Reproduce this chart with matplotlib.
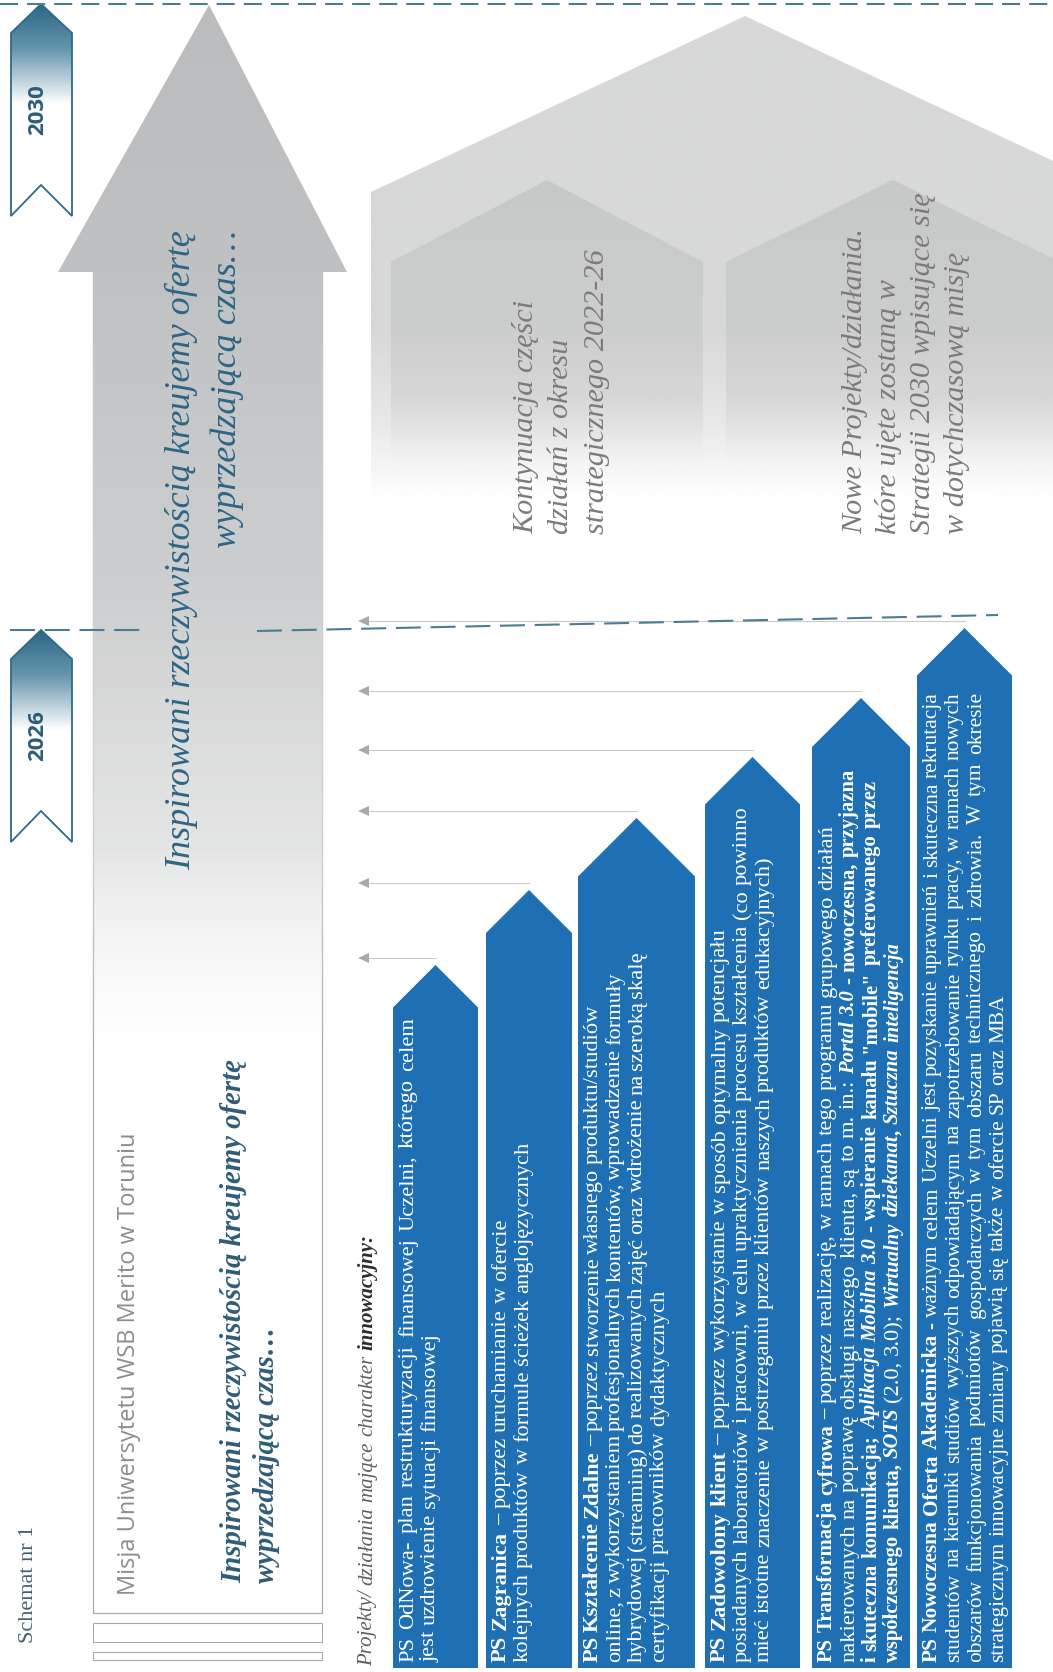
import numpy as np
import matplotlib
matplotlib.use("Agg")
import matplotlib.pyplot as plt
from matplotlib.patches import Polygon, Rectangle
from matplotlib.font_manager import FontProperties
from matplotlib.colors import to_rgb

plt.rcParams['lines.scale_dashes'] = False

W, H = 1053, 1672

# --- tresc schematu ---
title = 'Schemat nr 1'
years = ['2030', '2026']
year_top = [4, 630]
mission_title = 'Misja Uniwersytetu WSB Merito w Toruniu'
motto = ['Inspirowani rzeczywistością kreujemy ofertę', 'wyprzedzającą czas…']
continuation = ['Kontynuacja części', 'działań z okresu', 'strategicznego 2022-26']
new_projects = ['Nowe Projekty/działania.', 'które ujęte zostaną w',
                'Strategii 2030 wpisujące się', 'w dotychczasową misję']
projects_intro = [('Projekty/ działania mające charakter ', 'i'), ('innowacyjny:', 'bi')]

ps_lines = [
    [  # PS OdNowa
        [('PS OdNowa- plan restrukturyzacji finansowej Uczelni, którego celem', 'r')],
        [('jest uzdrowienie sytuacji finansowej', 'r')],
    ],
    [  # PS Zagranica
        [('PS Zagranica –', 'b'), (' poprzez uruchamianie w ofercie', 'r')],
        [('kolejnych produktów w formule ścieżek anglojęzycznych', 'r')],
    ],
    [  # PS Ksztalcenie Zdalne
        [('PS Kształcenie Zdalne –', 'b'), (' poprzez stworzenie własnego produktu/studiów', 'r')],
        [('online, z wykorzystaniem profesjonalnych kontentów, wprowadzenie formuły', 'r')],
        [('hybrydowej (streaming) do realizowanych zajęć oraz wdrożenie na szeroką skalę', 'r')],
        [('certyfikacji pracowników dydaktycznych', 'r')],
    ],
    [  # PS Zadowolony klient
        [('PS Zadowolony klient –', 'b'), (' poprzez wykorzystanie w sposób optymalny potencjału', 'r')],
        [('posiadanych laboratoriów i pracowni, w celu upraktycznienia procesu kształcenia (co powinno', 'r')],
        [('mieć istotne znaczenie w postrzeganiu przez klientów naszych produktów edukacyjnych)', 'r')],
    ],
    [  # PS Transformacja cyfrowa
        [('PS Transformacja cyfrowa –', 'b'), (' poprzez realizację, w ramach tego programu grupowego działań', 'r')],
        [('nakierowanych na poprawę obsługi naszego klienta, są to m. in.: ', 'r'),
         ('Portal 3.0', 'bi'), (' - nowoczesna, przyjazna', 'b')],
        [('i skuteczna komunikacja; ', 'b'), ('Aplikacja Mobilna 3.0', 'bi'),
         (' - wspieranie kanału "mobile" preferowanego przez', 'b')],
        [('współczesnego klienta, ', 'b'), ('SOTS', 'bi'), (' (2.0, 3.0); ', 'r'),
         ('Wirtualny dziekanat', 'bi'), (', ', 'b'), ('Sztuczna inteligencja', 'bi')],
    ],
    [  # PS Nowoczesna Oferta Akademicka
        [('PS Nowoczesna Oferta Akademicka', 'b'),
         (' - ważnym celem Uczelni jest pozyskanie uprawnień i skuteczna rekrutacja', 'r')],
        [('studentów na kierunki studiów wyższych odpowiadającym na zapotrzebowanie rynku pracy, w ramach nowych', 'r')],
        [('obszarów funkcjonowania podmiotów gospodarczych w tym obszaru technicznego i zdrowia. W tym okresie', 'r')],
        [('strategicznym innowacyjne zmiany pojawią się także w ofercie SP oraz MBA', 'r')],
    ],
]
ps_left = [393, 486, 578, 705, 812, 917]
ps_right = [478, 572, 695, 800, 910, 1012]
ps_tip = [965, 890, 818, 757, 698, 628]
ps_text_len = [645, None, 657, None, None, 970]   # dlugosc justowanych wierszy
ps_font = [16.2, 16.2, 16.2, 16.2, 16.2, 15.4]
ps_bold_scale = [1, 1, 1, 1, 0.92, 1]             # pogrubienia w PS Transformacja sa wezsze

SERIF = 'Liberation Serif'
BLUE = '#1e6fb4'
TEAL = '#4d7b90'

fig = plt.figure(figsize=(W / 100, H / 100), dpi=100)
ax = fig.add_axes([0, 0, 1, 1])
ax.set_xlim(0, W)
ax.set_ylim(H, 0)
ax.set_autoscale_on(False)
ax.axis('off')
renderer = fig.canvas.get_renderer()


def fp(style='r', size=14.5, family=SERIF):
    return FontProperties(family=family, size=size,
                          style='italic' if 'i' in style else 'normal',
                          weight='bold' if 'b' in style else 'normal')


def text_w(s, prop):
    w, _, _ = renderer.get_text_width_height_descent(s, prop, ismath=False)
    return w


def vtext(x, y, s, prop, color, ha='left', z=6):
    return ax.text(x, y, s, fontproperties=prop, color=color, rotation=90,
                   rotation_mode='anchor', ha=ha, va='baseline', zorder=z)


def tokenize(runs):
    words, glue = [], False
    for txt, st in runs:
        for i, p in enumerate(txt.split(' ')):
            if i > 0:
                glue = False
            if p:
                if glue and words:
                    words[-1].append((p, st))
                else:
                    words.append([(p, st)])
                glue = True
    return words


def rich_line(x, y0, runs, size, color, length=None, bold_scale=1.0):
    def prop(st):
        return fp(st, size * (bold_scale if 'b' in st else 1.0))
    words = tokenize(runs)
    widths = [sum(text_w(p, prop(st)) for p, st in wd) for wd in words]
    reg = fp('r', size)
    space = text_w('a a', reg) - text_w('aa', reg)
    gap = space
    if length and len(words) > 1:
        gap = max((length - sum(widths)) / (len(words) - 1), 0.6 * space)
    y = y0
    for wd, w in zip(words, widths):
        yy = y
        for p, st in wd:
            c = color[st] if isinstance(color, dict) else color
            vtext(x, yy, p, prop(st), c)
            yy -= text_w(p, prop(st))
        y -= w + gap


def fade_fill(pts, ys, colors, alphas, z):
    poly = Polygon(pts, closed=True, fc='none', ec='none')
    ax.add_patch(poly)
    px = [p[0] for p in pts]
    py = [p[1] for p in pts]
    y0, y1 = min(py), max(py)
    grid = np.linspace(y0, y1, 600)
    cols = np.array([to_rgb(c) for c in colors])
    img = np.ones((600, 2, 4))
    for k in range(3):
        img[:, :, k] = np.interp(grid, ys, cols[:, k])[:, None]
    img[:, :, 3] = np.interp(grid, ys, alphas)[:, None]
    im = ax.imshow(img, extent=(min(px), max(px), y1, y0), origin='upper',
                   aspect='auto', interpolation='bilinear', zorder=z)
    im.set_clip_path(poly)


# --- domki po prawej ---
big_house = [(745, 16), (1119, 192), (1119, 520), (371, 520), (371, 192)]
fade_fill(big_house, [16, 330, 420, 500], ['#d7d8d8'] * 4, [1, 1, 0.6, 0], 1)
for cx, hw in [(547, 156), (893, 167)]:
    house = [(cx, 180), (cx + hw, 262), (cx + hw, 475), (cx - hw, 475), (cx - hw, 262)]
    fade_fill(house, [180, 325, 395, 460], ['#c7c8c8', '#cccdcd', '#d4d4d4', '#e1e1e1'],
              [1, 1, 0.8, 0], 1.5)

for j, s in enumerate(continuation):
    vtext(533 + 35.5 * j, 534, s, fp('i', 21.8), '#7b7b7b')
for j, s in enumerate(new_projects):
    vtext(862 + 34 * j, 534, s, fp('i', 21.8), '#7b7b7b')

# --- duza szara strzalka (misja) ---
mission_arrow = [(209, 5), (347, 272), (323, 272), (323, 1060), (93, 1060), (93, 272), (58, 272)]
fade_fill(mission_arrow, [5, 272, 600, 850, 1050],
          ['#bbbcbd', '#c0c1c2', '#cecfd0', '#dcdddd', '#f2f2f2'], [1, 1, 1, 0.75, 0], 2)
ax.add_patch(Rectangle((93, 272), 229, 1613 - 272, fill=False, ec='#a8a8a8', lw=0.9, zorder=1))
ax.add_patch(Rectangle((93, 1623), 229, 19, fill=False, ec='#a8a8a8', lw=0.8, zorder=1))
ax.add_patch(Rectangle((93, 1652), 229, 8, fill=False, ec='#a8a8a8', lw=0.8, zorder=1))

vtext(190, 230, motto[0], fp('i', 26), '#2e6584', ha='right')
vtext(236, 230, motto[1], fp('i', 26), '#2e6584', ha='right')
vtext(135, 1595, mission_title, FontProperties(family='Open Sans', size=17), '#8d8d8d')
vtext(241, 1583, motto[0], fp('bi', 20.7), '#2f5d75')
vtext(274, 1583, motto[1], fp('bi', 20.7), '#2f5d75')
vtext(33, 1643, title, fp('r', 16), '#46606f')

# --- znaczniki lat ---
for label, top in zip(years, year_top):
    pts = [(11, top + 29), (41, top), (72, top + 29), (72, top + 212), (41, top + 181), (11, top + 212)]
    fade_fill(pts, [top, top + 45, top + 100, top + 212],
              ['#2a6786', '#6695ad', '#ffffff', '#ffffff'], [1, 1, 1, 1], 3)
    ax.add_patch(Polygon(pts, closed=True, fill=False, ec='#2f6a88', lw=1.3, zorder=4))
    ax.text(38, top + 106, label, rotation=90, ha='center', va='center', color='#2c5c76',
            fontproperties=FontProperties(family='Open Sans', weight='bold', size=16), zorder=5)

ax.plot([0, W], [year_top[0], year_top[0]], color=TEAL, lw=1.5, dashes=(13, 6.5), zorder=4)
ax.plot([10, 145], [year_top[1], year_top[1]], color=TEAL, lw=1.5, dashes=(18, 7), zorder=4)
ax.plot([257, 998], [year_top[1] + 1, year_top[1] - 15], color=TEAL, lw=1.5, dashes=(18, 7), zorder=4)

# --- niebieskie strzalki PS ---
rich_line(372, 1666, projects_intro, 15, {'i': '#5e5e5e', 'bi': '#2b2b2b'})

for i, lines in enumerate(ps_lines):
    l, r, t = ps_left[i], ps_right[i], ps_tip[i]
    tx = (l + r) / 2
    sh = t + (r - l) / 2
    ax.add_patch(Polygon([(l, 1668), (l, sh), (tx, t), (r, sh), (r, 1668)],
                         closed=True, fc=BLUE, ec='none', zorder=3))
    my = t - 7
    ax.plot([368, tx], [my, my], color='#cacaca', lw=0.8, zorder=2)
    ax.add_patch(Polygon([(358, my), (369, my - 5), (369, my + 5)], closed=True,
                         fc='#a9a9a9', ec='none', zorder=3))
    for j, runs in enumerate(lines):
        length = ps_text_len[i] if (ps_text_len[i] and j < len(lines) - 1) else None
        rich_line(l + 20 + 22 * j, 1662, runs, ps_font[i], 'white', length, ps_bold_scale[i])

fig.savefig('out.png', dpi=100, facecolor='white')
